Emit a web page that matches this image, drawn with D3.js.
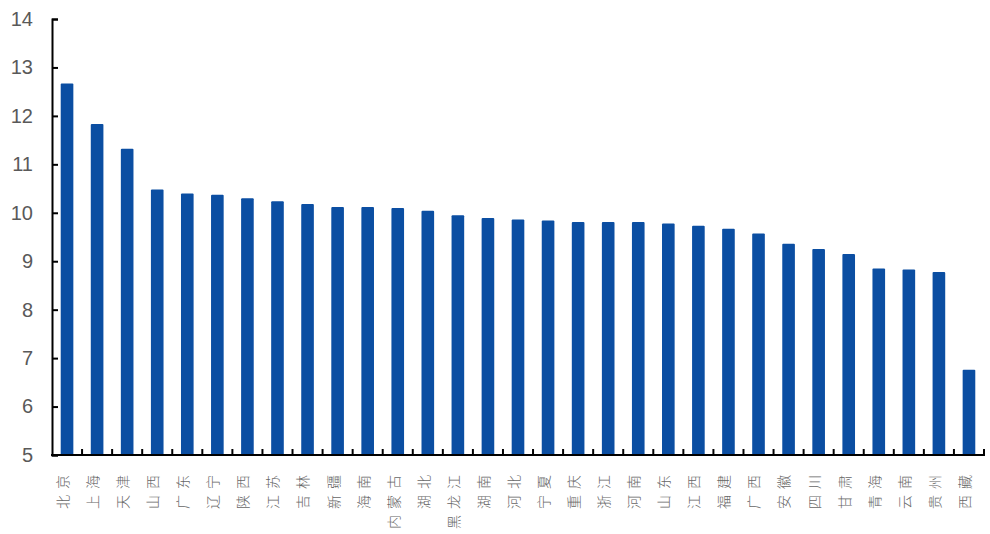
<!DOCTYPE html>
<html>
<head>
<meta charset="utf-8">
<script src="https://cdn.jsdelivr.net/npm/d3@7"></script>
<style>
    html, body { margin: 0; padding: 0; background: #fff; }
    svg { display: block; }
</style>
</head>
<body>
<svg id="chart" width="990" height="534"></svg>
<script>
const provinces = ['北京', '上海', '天津', '山西', '广东', '辽宁', '陕西', '江苏', '吉林', '新疆',
    '海南', '内蒙古', '湖北', '黑龙江', '湖南', '河北', '宁夏', '重庆', '浙江', '河南',
    '山东', '江西', '福建', '广西', '安徽', '四川', '甘肃', '青海', '云南', '贵州', '西藏'];
const values = [12.67, 11.83, 11.32, 10.48, 10.40, 10.37, 10.30, 10.24, 10.18, 10.12,
    10.12, 10.10, 10.04, 9.95, 9.89, 9.86, 9.84, 9.81, 9.81, 9.81,
    9.78, 9.73, 9.67, 9.57, 9.36, 9.25, 9.15, 8.85, 8.83, 8.78, 6.76];
const yTicks = [5, 6, 7, 8, 9, 10, 11, 12, 13, 14];

const svg = d3.select('#chart');
const margin = {top: 19, right: 6, bottom: 79, left: 52};
const width = 990 - margin.left - margin.right,
    height = 534 - margin.top - margin.bottom;

const g = svg.append('g')
    .attr('transform', `translate(${margin.left},${margin.top})`);

const x = d3.scaleBand()
    .domain(provinces)
    .range([0, width])
    .paddingInner(0.58)
    .paddingOuter(0.29);

const y = d3.scaleLinear()
    .domain([5, 14])
    .range([height, 0]);

// bars
g.selectAll('rect.bar')
    .data(provinces)
    .enter()
    .append('rect')
    .attr('class', 'bar')
    .attr('x', d => x(d))
    .attr('y', (d, i) => y(values[i]))
    .attr('width', x.bandwidth())
    .attr('height', (d, i) => y(5) - y(values[i]))
    .attr('rx', 1)
    .attr('fill', '#0b4ea2');

// y axis
const yAxis = g.append('g')
    .call(d3.axisLeft(y).tickValues(yTicks).tickSize(-6).tickPadding(19));
yAxis.select('.domain').attr('stroke', '#000').attr('stroke-width', 2);
yAxis.selectAll('.tick line').attr('stroke', '#000').attr('stroke-width', 2);
yAxis.selectAll('.tick text')
    .attr('fill', '#595959')
    .attr('font-family', 'Liberation Sans, Arial, sans-serif')
    .attr('font-size', 20);

// x axis line with ticks at category boundaries
const step = x.step();
const bounds = d3.range(1, provinces.length + 1).map(k => k * step);
g.append('line')
    .attr('x1', -1)
    .attr('x2', width + 1)
    .attr('y1', height)
    .attr('y2', height)
    .attr('stroke', '#000')
    .attr('stroke-width', 2);
g.selectAll('line.xtick')
    .data(bounds)
    .enter()
    .append('line')
    .attr('class', 'xtick')
    .attr('x1', d => d)
    .attr('x2', d => d)
    .attr('y1', height)
    .attr('y2', height - 6)
    .attr('stroke', '#000')
    .attr('stroke-width', 2);

// x labels, rotated, reading bottom to top
g.selectAll('text.xlabel')
    .data(provinces)
    .enter()
    .append('text')
    .attr('class', 'xlabel')
    .attr('transform', d => `translate(${x(d) + x.bandwidth() / 2 - 4},${height + 14}) rotate(-90)`)
    .attr('text-anchor', 'end')
    .attr('dy', '0.35em')
    .attr('fill', '#666')
    .attr('font-family', 'Noto Sans CJK SC, sans-serif')
    .attr('font-weight', 300)
    .attr('font-size', 14)
    .attr('letter-spacing', 6)
    .text(d => d);
</script>
</body>
</html>
